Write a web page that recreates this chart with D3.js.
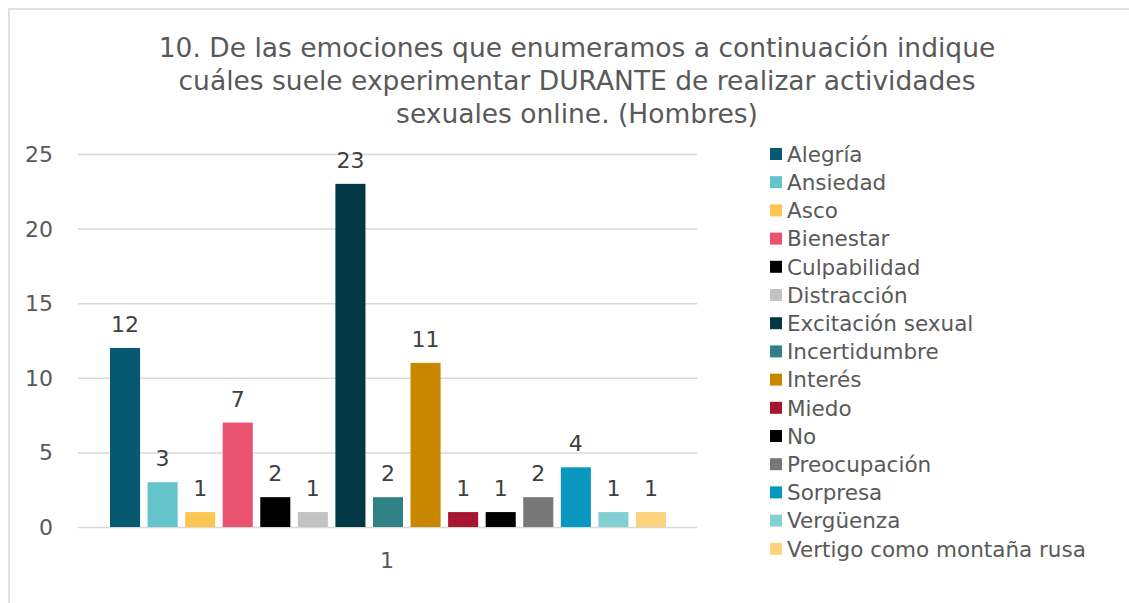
<!DOCTYPE html>
<html>
<head>
<meta charset="utf-8">
<script src="https://d3js.org/d3.v7.min.js"></script>
<style>
  body { margin: 0; background: #fff; }
  text { font-family: "DejaVu Sans", Verdana, sans-serif; }
  .grid line { stroke: #d9d9d9; stroke-width: 1.5px; }
  .grid path { display: none; }
</style>
</head>
<body>
<svg id="chart" width="1129" height="603"></svg>
<script>
// data
var categories = ["1"];
var seriesNames = ["Alegría", "Ansiedad", "Asco", "Bienestar", "Culpabilidad", "Distracción",
  "Excitación sexual", "Incertidumbre", "Interés", "Miedo", "No", "Preocupación",
  "Sorpresa", "Vergüenza", "Vertigo como montaña rusa"];
var seriesValues = [12, 3, 1, 7, 2, 1, 23, 2, 11, 1, 1, 2, 4, 1, 1];
var seriesColors = ["#055a72", "#65c3ca", "#fdc652", "#e9536f", "#000000", "#c3c3c3",
  "#043745", "#318186", "#c98700", "#a71631", "#000000", "#777777",
  "#0996bf", "#84cfd4", "#fdd37d"];
var yTicks = [0, 5, 10, 15, 20, 25];
var titleLines = ["10. De las emociones que enumeramos a continuación indique",
  "cuáles suele experimentar DURANTE de realizar actividades",
  "sexuales online. (Hombres)"];

var svg = d3.select("#chart");

// chart border
svg.append("rect")
  .attr("x", 9).attr("y", 9).attr("width", 1140).attr("height", 620)
  .attr("fill", "#fff").attr("stroke", "#d9d9d9").attr("stroke-width", 1.5);

var plotL = 78, plotR = 697, plotT = 154, plotB = 527;

var y = d3.scaleLinear().domain([0, 25]).range([plotB, plotT]);
var x0 = d3.scaleBand().domain(categories).range([plotL, plotR]);
var x1 = d3.scaleBand().domain(seriesNames).range([110, 666]).paddingInner(0.2);

// gridlines
svg.append("g").attr("class", "grid")
  .attr("transform", "translate(" + plotL + ",0)")
  .call(d3.axisRight(y).tickValues(yTicks).tickSize(plotR - plotL).tickFormat(""));

// y tick labels
svg.selectAll(".ylab").data(yTicks).enter().append("text")
  .attr("x", 53).attr("y", function(d) { return y(d); })
  .attr("dy", "0.36em")
  .attr("text-anchor", "end")
  .attr("font-size", 22).attr("fill", "#595959")
  .text(function(d) { return d; });

// bars
svg.selectAll(".bar").data(seriesValues).enter().append("rect")
  .attr("x", function(d, i) { return x1(seriesNames[i]); })
  .attr("y", function(d) { return y(d); })
  .attr("width", x1.bandwidth())
  .attr("height", function(d) { return y(0) - y(d); })
  .attr("fill", function(d, i) { return seriesColors[i]; });

// value labels
svg.selectAll(".val").data(seriesValues).enter().append("text")
  .attr("x", function(d, i) { return x1(seriesNames[i]) + x1.bandwidth() / 2; })
  .attr("y", function(d) { return y(d) - 16; })
  .attr("text-anchor", "middle")
  .attr("font-size", 22).attr("fill", "#404040")
  .text(function(d) { return d; });

// category label
svg.append("text")
  .attr("x", x0("1") + x0.bandwidth() / 2 - 0.5).attr("y", 568)
  .attr("text-anchor", "middle")
  .attr("font-size", 22).attr("fill", "#595959")
  .text(categories[0]);

// title
svg.selectAll(".title").data(titleLines).enter().append("text")
  .attr("x", 577).attr("y", function(d, i) { return 57 + i * 33; })
  .attr("text-anchor", "middle")
  .attr("font-size", 26.5).attr("fill", "#595959")
  .text(function(d) { return d; });

// legend
var leg = svg.selectAll(".leg").data(seriesNames).enter().append("g")
  .attr("transform", function(d, i) { return "translate(770," + (154 + i * 28.2) + ")"; });
leg.append("rect")
  .attr("x", 0).attr("y", -6).attr("width", 12).attr("height", 12)
  .attr("fill", function(d, i) { return seriesColors[i]; });
leg.append("text")
  .attr("x", 17).attr("y", 0).attr("dy", "0.36em")
  .attr("font-size", 21.5).attr("fill", "#595959")
  .text(function(d) { return d; });
</script>
</body>
</html>
